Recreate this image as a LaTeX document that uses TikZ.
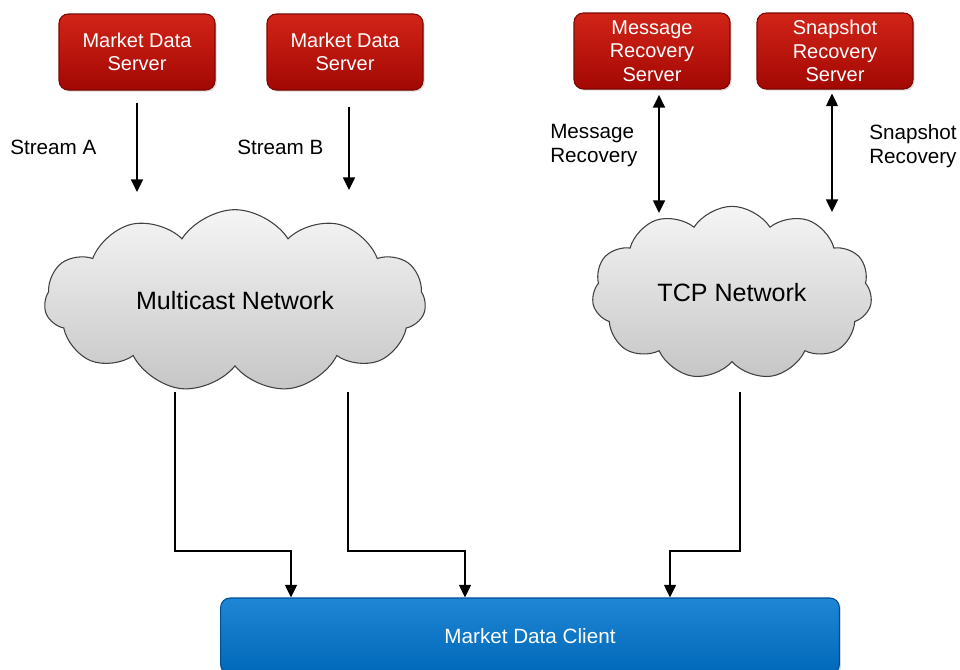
\documentclass[tikz,border=0pt]{standalone}
\usepackage{fontspec}
\setmainfont{Liberation Sans}
\usetikzlibrary{arrows.meta, shapes.symbols, shadows}

\definecolor{srvtop}{RGB}{210,36,24}
\definecolor{srvbot}{RGB}{162,8,3}
\definecolor{srvedge}{RGB}{125,6,3}
\definecolor{clttop}{RGB}{30,134,212}
\definecolor{cltbot}{RGB}{0,104,184}
\definecolor{cltedge}{RGB}{0,78,150}

\begin{document}
\begin{tikzpicture}[x=0.75pt,y=-0.75pt,
        server/.style={rectangle, rounded corners=7pt, draw=srvedge, line width=0.8pt,
            top color=srvtop, bottom color=srvbot, text=white, align=center,
            minimum width=117pt, minimum height=57pt, inner sep=1pt,
            font=\fontsize{15}{17.5}\selectfont,
            drop shadow={opacity=0.3, shadow xshift=1.2pt, shadow yshift=-1.2pt}},
        client/.style={rectangle, rounded corners=7pt, draw=cltedge, line width=0.8pt,
            top color=clttop, bottom color=cltbot, text=white,
            minimum width=464pt, minimum height=57pt,
            font=\fontsize{15.5}{18}\selectfont,
            drop shadow={opacity=0.3, shadow xshift=1.2pt, shadow yshift=-1.2pt}},
        network/.style={cloud, cloud puffs=11, cloud puff arc=115, aspect=2.1,
            draw=black!75, line width=0.8pt, top color=gray!8, bottom color=gray!45,
            font=\fontsize{18.8}{22}\selectfont},
        note/.style={align=left, font=\fontsize{15.5}{18}\selectfont, inner sep=0pt},
        flow/.style={-{Triangle[length=9.5pt,width=9pt]}, line width=1.1pt},
        twoway/.style={{Triangle[length=9.5pt,width=9pt]}-{Triangle[length=9.5pt,width=9pt]}, line width=1.1pt}
    ]

        \useasboundingbox (0,0) rectangle (960,669);

        % servers
        \node[server] (mds1) at (137,52) {Market Data\\Server};
        \node[server] (mds2) at (345,52) {Market Data\\Server};
        \node[server] (mrs) at (652,51) {Message\\Recovery\\Server};
        \node[server] (srs) at (835,51) {Snapshot\\Recovery\\Server};

        % networks
        \node[network, minimum width=286pt, minimum height=137pt] (mcast) at (235,301) {Multicast Network};
        \node[network, minimum width=210pt, minimum height=130pt] (tcp) at (732,293) {TCP Network};

        % client
        \node[client] (mdc) at (530,636) {Market Data Client};

        % labels
        \node[note, anchor=west] (lsa) at (10,147) {Stream A};
        \node[note, anchor=west] (lsb) at (237,147) {Stream B};
        \node[note, anchor=west] (lmr) at (550,146) {Message\\Recovery};
        \node[note, anchor=west] (lsr) at (869,146) {Snapshot\\Recovery};

        % streams
        \coordinate (sa) at (137,192);
        \coordinate (sb) at (349,190);
        \draw[flow, shorten <=9pt] (mds1.south) -- (sa);
        \draw[flow, shorten <=12pt] (mds2.south -| sb) -- (sb);

        % recovery
        \coordinate (mr) at (659,213);
        \coordinate (sr) at (832,212);
        \draw[twoway, shorten <=4pt] (mrs.south -| mr) -- (mr);
        \draw[twoway, shorten <=3pt] (srs.south -| sr) -- (sr);

        % to client
        \coordinate (ma) at (175,392);
        \coordinate (mb) at (348,392);
        \coordinate (ta) at (740,392);
        \coordinate (ka) at (291,551);
        \coordinate (kb) at (465,551);
        \coordinate (kc) at (670,551);

        \draw[flow] (ma) |- (ka) -- (ka |- mdc.north);
        \draw[flow] (mb) |- (kb) -- (kb |- mdc.north);
        \draw[flow] (ta) |- (kc) -- (kc |- mdc.north);
    \end{tikzpicture}
\end{document}
